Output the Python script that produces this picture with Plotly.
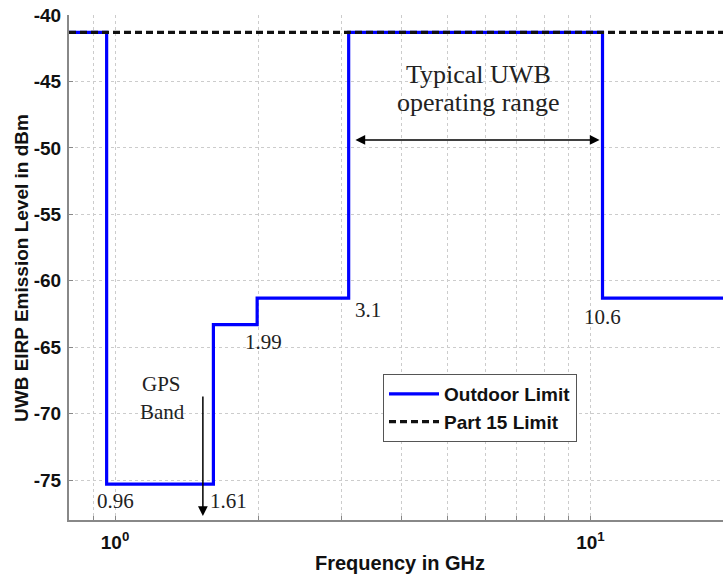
import math
import plotly.graph_objects as go

# ---- data ----
freq_edges_ghz = [0.8, 0.96, 1.61, 1.99, 3.1, 10.6, 25]
outdoor_limit_dbm = [-41.3, -75.3, -63.3, -61.3, -41.3, -61.3, -61.3]
part15_freq_ghz = [0.8, 25]
part15_limit_dbm = [-41.3, -41.3]
y_ticks = [-40, -45, -50, -55, -60, -65, -70, -75]
x_grid = [0.9, 1, 2, 3, 4, 5, 6, 7, 8, 9, 10, 20]
x_labels = {1: "10<sup>0</sup>", 10: "10<sup>1</sup>"}
edge_labels = ["0.96", "1.61", "1.99", "3.1", "10.6"]

SANS = "Liberation Sans"
SERIF = "Liberation Serif"
L = math.log10

fig = go.Figure()
fig.add_trace(go.Scatter(x=freq_edges_ghz, y=outdoor_limit_dbm, mode="lines",
                         line=dict(color="#0000ff", width=3.2, shape="hv"),
                         name="<b>Outdoor Limit</b>"))
fig.add_trace(go.Scatter(x=part15_freq_ghz, y=part15_limit_dbm, mode="lines",
                         line=dict(color="#111111", width=3.3, dash="7px,4px"),
                         name="<b>Part 15 Limit</b>"))

ann = []
def txt(t, lx, y, size=20):
    ann.append(dict(text=t, x=lx, y=y, xref="x", yref="y", showarrow=False,
                    xanchor="center", yanchor="middle",
                    font=dict(family=SERIF, size=size, color="#222222")))

txt("Typical UWB", 0.764, -44.5, 26)
txt("operating range", 0.764, -46.6, 26)
txt("GPS", 0.097, -67.8, 21)
txt("Band", 0.099, -69.9, 21)
pos = [(0.001, -76.6), (0.238, -76.6), (0.312, -64.6), (0.531, -62.2), (1.025, -62.7)]
for t, (lx, y) in zip(edge_labels, pos):
    txt(t, lx, y, 21)

# GPS arrow
ann.append(dict(x=L(1.53), y=-77.7, ax=L(1.53), ay=-68.6, xref="x", yref="y",
                axref="x", ayref="y", showarrow=True, arrowhead=2, arrowsize=1.3,
                arrowwidth=1.5, arrowcolor="black", text=""))
# double arrow
ann.append(dict(x=L(10.45), y=-49.4, ax=L(3.18), ay=-49.4, xref="x", yref="y",
                axref="x", ayref="y", showarrow=True, arrowhead=2, startarrowhead=2,
                arrowside="end+start", arrowsize=1.3, startarrowsize=1.3,
                arrowwidth=1.5, arrowcolor="black", text=""))
# axis titles
ann.append(dict(text="<b>Frequency in GHz</b>", xref="paper", yref="paper",
                x=(400 - 69) / 654, y=-(563 - 520) / 505, xanchor="center", yanchor="middle",
                showarrow=False, font=dict(family=SANS, size=20, color="#111")))
ann.append(dict(text="<b>UWB EIRP Emission Level in dBm</b>", xref="paper", yref="paper",
                x=-(69 - 21) / 654, y=(520 - 268) / 505, xanchor="center", yanchor="middle",
                textangle=-90, showarrow=False,
                font=dict(family=SANS, size=19, color="#111")))

fig.update_layout(
    annotations=ann,
    width=723, height=579,
    margin=dict(l=69, r=0, t=15, b=59),
    paper_bgcolor="white", plot_bgcolor="white",
    showlegend=True,
    legend=dict(x=(383 - 69) / 654, y=(520 - 374) / 505, xanchor="left", yanchor="top",
                bgcolor="white", bordercolor="#555", borderwidth=1, itemwidth=50,
                font=dict(family=SANS, size=19, color="#111"), tracegroupgap=0),
    xaxis=dict(type="log", range=[L(0.8), L(19.0)],
               tickvals=x_grid, ticktext=[x_labels.get(v, "") for v in x_grid],
               tickfont=dict(family=SANS, size=19, color="#111", weight="bold"),
               ticks="inside", ticklen=4, tickcolor="#888",
               showgrid=True, gridcolor="#cccccc", griddash="dot", gridwidth=1,
               showline=True, linecolor="#888", linewidth=2,
               zeroline=False, ticklabelstandoff=4),
    yaxis=dict(range=[-78, -40], tickvals=y_ticks, ticktext=[str(v) for v in y_ticks],
               tickfont=dict(family=SANS, size=19, color="#111", weight="bold"),
               ticks="inside", ticklen=4, tickcolor="#888",
               showgrid=True, gridcolor="#cccccc", griddash="dot", gridwidth=1,
               showline=True, linecolor="#888", linewidth=2, zeroline=False,
               ticklabelstandoff=2),
)

fig.write_html("out.html")
